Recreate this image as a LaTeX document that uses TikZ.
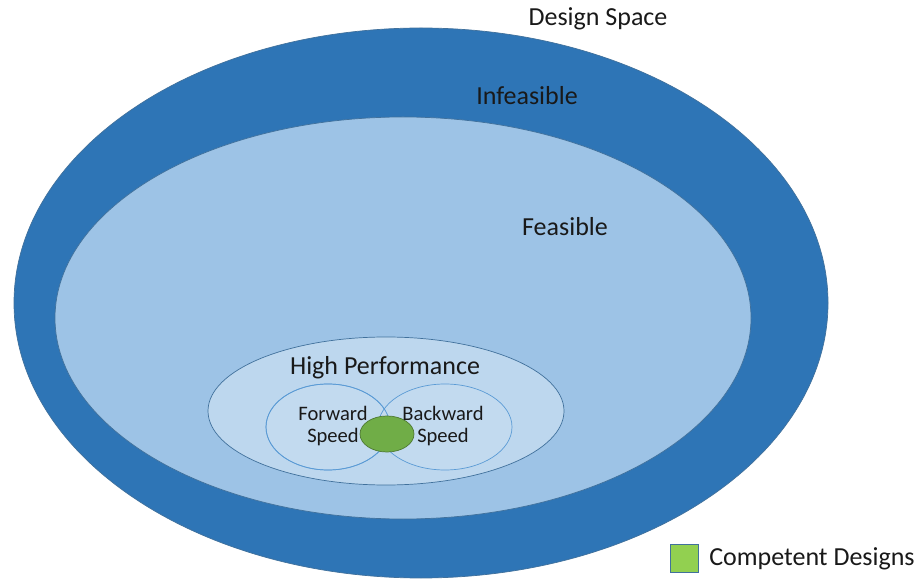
\documentclass[tikz,border=0pt]{standalone}
\usepackage{fontspec}
\setmainfont{Carlito}
\usepackage{tikz}

\definecolor{infeasible}{HTML}{2E75B6}
\definecolor{feasible}{HTML}{9DC3E6}
\definecolor{highperf}{HTML}{BDD7EE}
\definecolor{speed}{HTML}{C6DCF0}
\definecolor{competent}{HTML}{70AD47}
\definecolor{legendgreen}{HTML}{92D050}
\definecolor{rim}{HTML}{41719C}
\definecolor{thinrim}{HTML}{5B9BD5}

\begin{document}
\begin{tikzpicture}[x=0.02cm, y=-0.02cm]
\tikzstyle{every node} = [inner sep=0pt, align=center, text=black!90, font=\fontsize{14.8}{16}\selectfont]
\tikzstyle{small} = [font=\fontsize{11.7}{12.6}\selectfont]
\useasboundingbox (0,0) rectangle (919,580);
% nested regions
\draw [rim, fill=infeasible] (421,303) ellipse (407 and 275);
\draw [rim, fill=feasible] (403,318) ellipse (348 and 201);
\draw [rim, fill=highperf] (386,411) ellipse (178 and 74);
\draw [thinrim, fill=speed, fill opacity=.6] (328,427) ellipse (62 and 43);
\draw [thinrim, fill=speed, fill opacity=.6] (445,427) ellipse (67 and 43);
\draw [thinrim] (328,427) ellipse (62 and 43);
\draw [competent!70!black, fill=competent] (387,434) ellipse (27 and 18);
% labels
\node (space) at (598,19) {Design Space};
\node (infeas) at (527,96) {Infeasible};
\node (feas) at (565,227) {Feasible};
\node (high) at (385,368) {High Performance};
\node [small] (fwd) at (333,426) {Forward\\Speed};
\node [small] (bwd) at (443,426) {Backward\\Speed};
% legend
\draw [rim, fill=legendgreen] (670,544) rectangle (698,572);
\node [anchor=west] (legend) at (709,559) {Competent Designs};
\end{tikzpicture}
\end{document}
